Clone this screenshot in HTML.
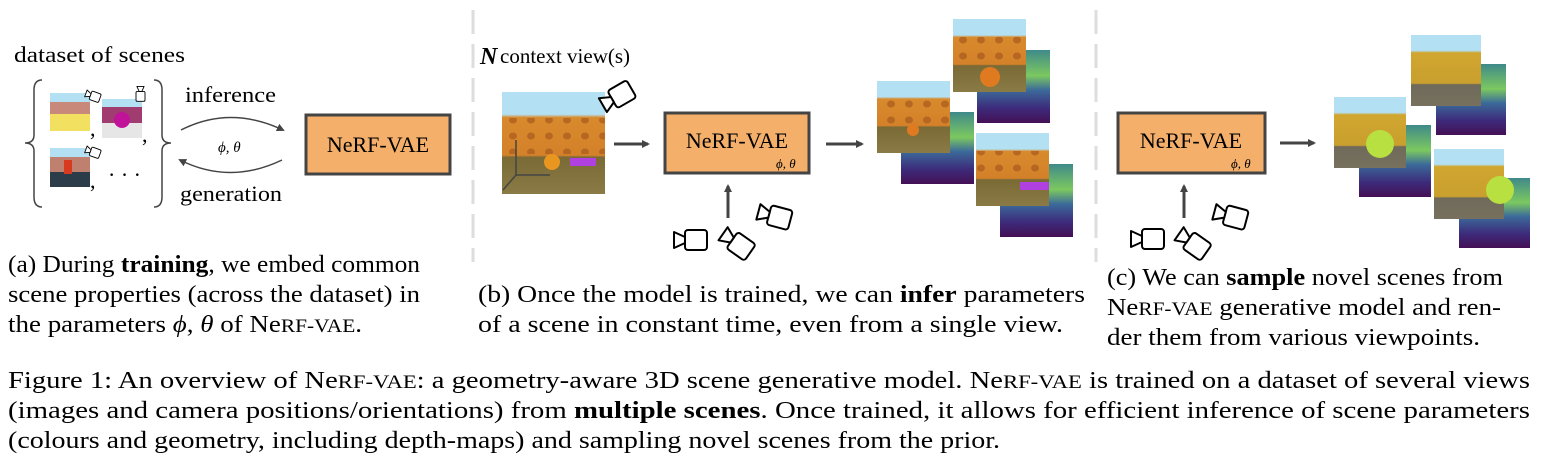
<!DOCTYPE html>
<html><head><meta charset="utf-8"><style>
html,body{margin:0;padding:0;background:#fff;}
svg{display:block;}
text{font-family:"Liberation Serif","Times New Roman",serif;fill:#000;}
</style></head><body>
<svg width="1541" height="471" viewBox="0 0 1541 471" xmlns="http://www.w3.org/2000/svg" font-family="Liberation Serif, serif">
<defs>
<linearGradient id="scene" x1="0" y1="0" x2="0" y2="1">
<stop offset="0" stop-color="#b3e0f2"/><stop offset="0.22" stop-color="#b3e0f2"/>
<stop offset="0.25" stop-color="#d88a2c"/><stop offset="0.62" stop-color="#d4812a"/>
<stop offset="0.64" stop-color="#7a6a35"/><stop offset="1" stop-color="#8a7a45"/>
</linearGradient>
<linearGradient id="scene2" x1="0" y1="0" x2="0" y2="1">
<stop offset="0" stop-color="#b3e0f2"/><stop offset="0.22" stop-color="#b3e0f2"/>
<stop offset="0.25" stop-color="#d1a630"/><stop offset="0.68" stop-color="#c99f2e"/>
<stop offset="0.70" stop-color="#6f6a5a"/><stop offset="1" stop-color="#77705e"/>
</linearGradient>
<linearGradient id="depth" x1="0" y1="0" x2="0" y2="1">
<stop offset="0" stop-color="#3f8a8a"/><stop offset="0.35" stop-color="#7cc860"/>
<stop offset="0.55" stop-color="#3b6a9a"/><stop offset="0.8" stop-color="#3d2a7a"/>
<stop offset="1" stop-color="#441055"/>
</linearGradient>
<pattern id="dots" width="18" height="16" patternUnits="userSpaceOnUse">
<ellipse cx="9" cy="8" rx="4" ry="3.5" fill="#a85a1c" opacity="0.7"/>
</pattern>
<g id="cam">
<rect x="12" y="0" width="22" height="20" rx="3" fill="#fff" stroke="#000" stroke-width="2"/>
<polygon points="1,2 12,7 12,13 1,18" fill="#fff" stroke="#000" stroke-width="2" stroke-linejoin="round"/>
</g>
<marker id="ah" markerWidth="8" markerHeight="8" refX="6" refY="4" orient="auto" markerUnits="userSpaceOnUse">
<path d="M0,0 L8,4 L0,8 z" fill="#444"/></marker>
</defs>

<!-- dividers -->
<line x1="473" y1="10" x2="473" y2="262" stroke="#ddd" stroke-width="3" stroke-dasharray="24,10"/>
<line x1="1096" y1="10" x2="1096" y2="262" stroke="#ddd" stroke-width="3" stroke-dasharray="24,10"/>

<!-- PANEL A -->
<text x="14" y="62" font-size="22" fill="#333" textLength="171" lengthAdjust="spacingAndGlyphs">dataset  of scenes</text>
<path d="M42,80 Q34,80 34,90 L34,135 Q34,143 25,143 Q34,143 34,151 L34,197 Q34,207 42,207" fill="none" stroke="#444" stroke-width="1.5"/>
<path d="M154,80 Q162,80 162,90 L162,135 Q162,143 171,143 Q162,143 162,151 L162,197 Q162,207 154,207" fill="none" stroke="#444" stroke-width="1.5"/>
<rect x="50" y="93" width="40" height="38" fill="#f2e060"/>
<rect x="50" y="93" width="40" height="9" fill="#b3e0f2"/>
<rect x="50" y="102" width="40" height="12" fill="#c9897a"/>
<rect x="102" y="99" width="40" height="39" fill="#e6e6e6"/>
<rect x="102" y="99" width="40" height="8" fill="#b3e0f2"/>
<rect x="102" y="107" width="40" height="16" fill="#a03c70"/>
<circle cx="122" cy="120" r="8" fill="#c0139a"/>
<rect x="50" y="148" width="40" height="39" fill="#2c3c48"/>
<rect x="50" y="148" width="40" height="9" fill="#b3e0f2"/>
<rect x="50" y="157" width="40" height="15" fill="#c08070"/>
<rect x="64" y="160" width="8" height="14" fill="#d83a20"/>
<text x="90" y="136" font-size="22">,</text><text x="142" y="142" font-size="22">,</text><text x="90" y="188" font-size="22">,</text>
<text x="108" y="182" font-size="22">· · ·</text>
<use href="#cam" transform="translate(87,89) rotate(20) scale(0.45)"/>
<use href="#cam" transform="translate(145,86) rotate(90) scale(0.45)"/>
<use href="#cam" transform="translate(87,145) rotate(20) scale(0.45)"/>
<text x="185" y="102" font-size="22" fill="#333" textLength="91" lengthAdjust="spacingAndGlyphs">inference</text>
<text x="180" y="201" font-size="22" fill="#333" textLength="102" lengthAdjust="spacingAndGlyphs">generation</text>
<path d="M181,130 Q230,105 283,130" fill="none" stroke="#444" stroke-width="1.5" marker-end="url(#ah)"/>
<path d="M282,160 Q230,185 180,160" fill="none" stroke="#444" stroke-width="1.5" marker-end="url(#ah)"/>
<text x="218" y="152" font-size="15" font-style="italic" fill="#444">ϕ, θ</text>
<rect x="306" y="115" width="144" height="59" fill="#f4b06a" stroke="#444" stroke-width="3"/>
<text x="378" y="152" font-size="22" text-anchor="middle" fill="#222">NeRF-VAE</text>

<!-- PANEL B -->
<text x="480" y="64" font-size="24" font-weight="bold" font-style="italic">N</text>
<text x="500" y="63" font-size="21" fill="#333">context view(s)</text>
<rect x="502" y="92" width="103" height="102" fill="url(#scene)"/>
<rect x="502" y="118" width="103" height="36" fill="url(#dots)"/>
<circle cx="552" cy="162" r="8" fill="#e8961f"/>
<rect x="570" y="158" width="26" height="8" fill="#b040e0"/>
<g stroke="#444" stroke-width="1.5" fill="none"><path d="M516,175 L516,140 M516,175 L550,175 M516,175 L503,190"/></g>
<use href="#cam" transform="translate(597,97) rotate(-30) scale(1)"/>
<line x1="614" y1="144" x2="648" y2="144" stroke="#444" stroke-width="3" marker-end="url(#ah)"/>
<rect x="665" y="113" width="144" height="60" fill="#f4b06a" stroke="#444" stroke-width="3"/>
<text x="737" y="148" font-size="22" text-anchor="middle" fill="#222">NeRF-VAE</text>
<text x="776" y="168" font-size="13" font-style="italic" fill="#333">ϕ, θ</text>
<line x1="728" y1="218" x2="728" y2="186" stroke="#444" stroke-width="3" marker-end="url(#ah)"/>
<use href="#cam" transform="translate(673,230) scale(1)"/>
<use href="#cam" transform="translate(728,225) rotate(35) scale(1)"/>
<use href="#cam" transform="translate(760,202) rotate(15) scale(1)"/>
<line x1="826" y1="144" x2="862" y2="144" stroke="#444" stroke-width="3" marker-end="url(#ah)"/>
<rect x="901" y="112" width="73" height="72" fill="url(#depth)"/>
<rect x="877" y="81" width="73" height="72" fill="url(#scene)"/>
<rect x="877" y="99" width="73" height="27" fill="url(#dots)"/>
<circle cx="913" cy="130" r="6" fill="#e07a20"/>
<rect x="977" y="50" width="73" height="73" fill="url(#depth)"/>
<rect x="953" y="19" width="73" height="73" fill="url(#scene)"/>
<rect x="953" y="37" width="73" height="28" fill="url(#dots)"/>
<circle cx="990" cy="77" r="10" fill="#e07a20"/>
<rect x="1000" y="164" width="73" height="73" fill="url(#depth)"/>
<rect x="976" y="133" width="73" height="73" fill="url(#scene)"/>
<rect x="976" y="151" width="73" height="28" fill="url(#dots)"/>
<rect x="1020" y="182" width="29" height="8" fill="#b040e0"/>

<!-- PANEL C -->
<rect x="1118" y="113" width="147" height="60" fill="#f4b06a" stroke="#444" stroke-width="3"/>
<text x="1191" y="148" font-size="22" text-anchor="middle" fill="#222">NeRF-VAE</text>
<text x="1231" y="168" font-size="13" font-style="italic" fill="#333">ϕ, θ</text>
<line x1="1184" y1="218" x2="1184" y2="186" stroke="#444" stroke-width="3" marker-end="url(#ah)"/>
<use href="#cam" transform="translate(1130,229) scale(1)"/>
<use href="#cam" transform="translate(1184,225) rotate(35) scale(1)"/>
<use href="#cam" transform="translate(1216,202) rotate(15) scale(1)"/>
<line x1="1280" y1="143" x2="1314" y2="143" stroke="#444" stroke-width="3" marker-end="url(#ah)"/>
<rect x="1359" y="125" width="72" height="72" fill="url(#depth)"/>
<rect x="1334" y="97" width="72" height="71" fill="url(#scene2)"/>
<circle cx="1380" cy="144" r="14" fill="#b8e040"/>
<rect x="1436" y="64" width="70" height="71" fill="url(#depth)"/>
<rect x="1411" y="35" width="70" height="71" fill="url(#scene2)"/>
<rect x="1459" y="178" width="71" height="70" fill="url(#depth)"/>
<rect x="1434" y="149" width="70" height="70" fill="url(#scene2)"/>
<circle cx="1500" cy="190" r="14" fill="#b8e040"/>
<rect x="1504" y="170" width="10" height="50" fill="#fff" opacity="0"/>

<!-- captions -->
<g font-size="24">
<text x="8" y="272" textLength="412" lengthAdjust="spacingAndGlyphs">(a) During <tspan font-weight="bold">training</tspan>, we embed common</text>
<text x="8" y="302" textLength="412" lengthAdjust="spacingAndGlyphs">scene properties (across the dataset) in</text>
<text x="8" y="332" textLength="354" lengthAdjust="spacingAndGlyphs">the parameters <tspan font-style="italic">ϕ</tspan>, <tspan font-style="italic">θ</tspan> of Ne<tspan font-size="19">RF-VAE</tspan>.</text>
<text x="478" y="302" textLength="607" lengthAdjust="spacingAndGlyphs">(b) Once the model is trained, we can <tspan font-weight="bold">infer</tspan> parameters</text>
<text x="478" y="332" textLength="585" lengthAdjust="spacingAndGlyphs">of a scene in constant time, even from a single view.</text>
<text x="1107" y="285" textLength="396" lengthAdjust="spacingAndGlyphs">(c) We can <tspan font-weight="bold">sample</tspan> novel scenes from</text>
<text x="1107" y="315" textLength="394" lengthAdjust="spacingAndGlyphs">Ne<tspan font-size="19">RF-VAE</tspan> generative model and ren-</text>
<text x="1107" y="345" textLength="373" lengthAdjust="spacingAndGlyphs">der them from various viewpoints.</text>
<text x="8" y="388" textLength="1522" lengthAdjust="spacingAndGlyphs">Figure 1: An overview of Ne<tspan font-size="19">RF-VAE</tspan>: a geometry-aware 3D scene generative model. Ne<tspan font-size="19">RF-VAE</tspan> is trained on a dataset of several views</text>
<text x="8" y="418" textLength="1522" lengthAdjust="spacingAndGlyphs">(images and camera positions/orientations) from <tspan font-weight="bold">multiple scenes</tspan>. Once trained, it allows for efficient inference of scene parameters</text>
<text x="8" y="448" textLength="992" lengthAdjust="spacingAndGlyphs">(colours and geometry, including depth-maps) and sampling novel scenes from the prior.</text>
</g>
</svg>
</body></html>
